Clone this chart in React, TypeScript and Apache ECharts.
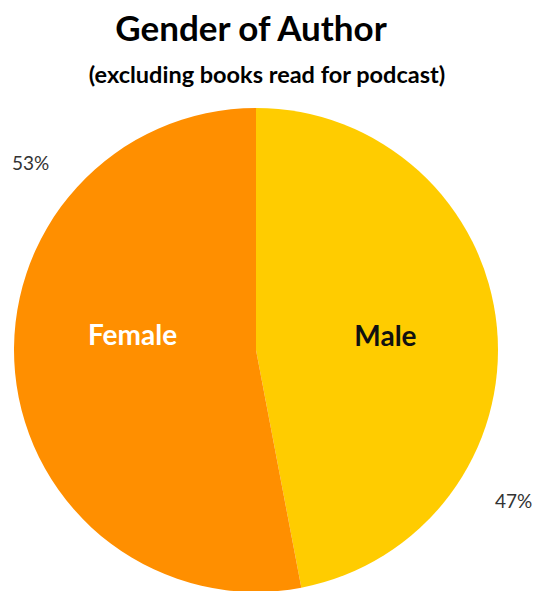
import React, { useEffect, useRef } from "react";
import * as echarts from "echarts";

const categories = ["Male", "Female"];
const values = [47, 53];
const colors = ["#FFCC00", "#FF8F00"];
const labelColors = ["#111111", "#FFFFFF"];

export default function App() {
  const ref = useRef<HTMLDivElement>(null);
  useEffect(() => {
    if (!ref.current) return;
    const chart = echarts.init(ref.current, null, { renderer: "svg" });
    const total = values.reduce((a, b) => a + b, 0);
    const pct = values.map((v) => Math.round((v / total) * 100) + "%");
    chart.setOption({
      animation: false,
      backgroundColor: "#ffffff",
      title: [
        {
          text: "Gender of Author",
          left: 246,
          top: 4,
          textAlign: "center",
          textStyle: { fontFamily: "Lato", fontWeight: "bold", fontSize: 35, color: "#000" },
        },
        {
          text: "(excluding books read for podcast)",
          left: 262,
          top: 57,
          textAlign: "center",
          textStyle: { fontFamily: "Lato", fontWeight: "bold", fontSize: 23.5, color: "#000" },
        },
      ],
      graphic: [
        {
          type: "text",
          left: 12,
          top: 153,
          style: { text: pct[1], fontFamily: "Lato", fontSize: 19, fill: "#333" },
        },
        {
          type: "text",
          left: 495,
          top: 491,
          style: { text: pct[0], fontFamily: "Lato", fontSize: 19, fill: "#333" },
        },
      ],
      series: [
        {
          type: "pie",
          center: [256, 350],
          radius: [0, 242],
          startAngle: 90,
          clockwise: true,
          label: {
            position: "inside",
            fontFamily: "Lato",
            fontWeight: "bold",
            fontSize: 28,
            formatter: "{b}",
          },
          labelLine: { show: false },
          itemStyle: { borderWidth: 0 },
          data: categories.map((c, i) => ({
            name: c,
            value: values[i],
            itemStyle: { color: colors[i] },
            label: {
              color: labelColors[i],
              offset: i === 1 ? [0, -28] : [6, -3],
            },
          })),
        },
      ],
    });
    return () => chart.dispose();
  }, []);
  return <div ref={ref} style={{ width: 543, height: 591, position: "absolute", left: 0, top: 0 }} />;
}
